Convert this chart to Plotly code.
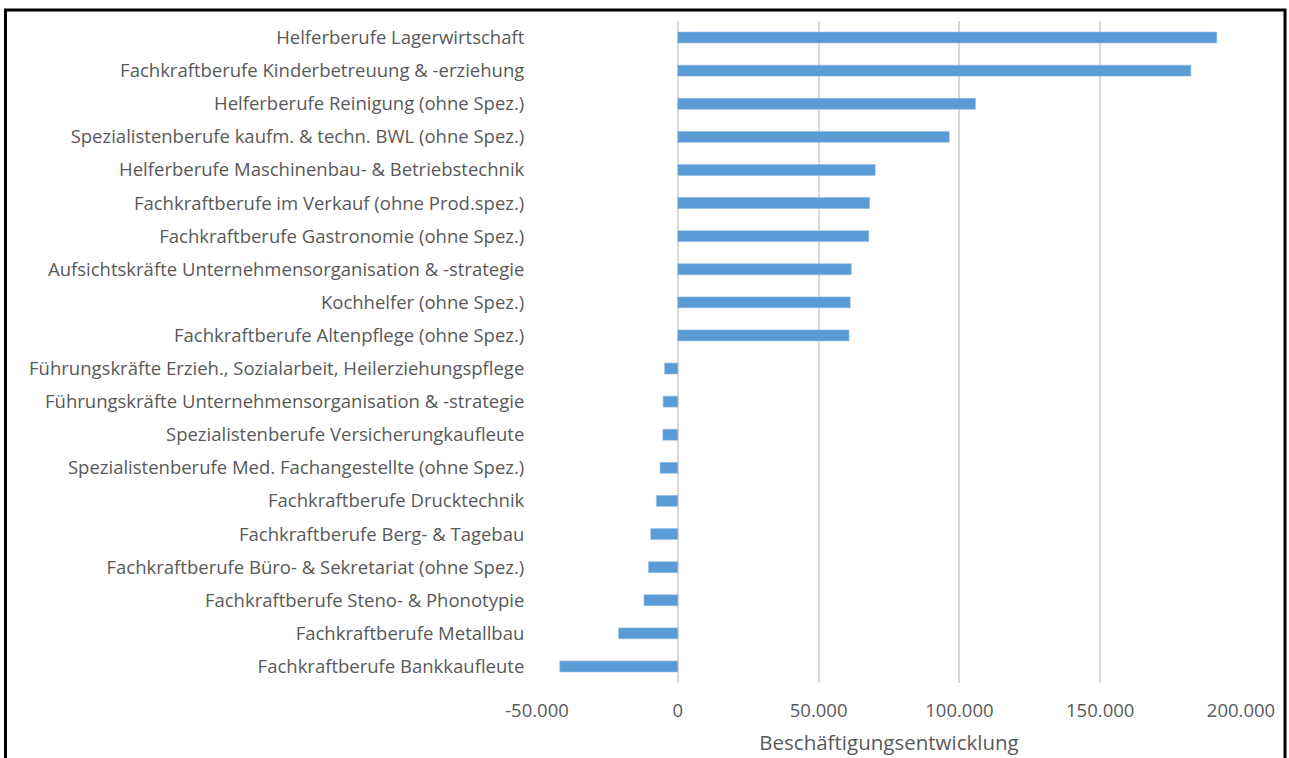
import plotly.graph_objects as go

categories = [
    "Helferberufe Lagerwirtschaft",
    "Fachkraftberufe Kinderbetreuung & -erziehung",
    "Helferberufe Reinigung (ohne Spez.)",
    "Spezialistenberufe kaufm. & techn. BWL (ohne Spez.)",
    "Helferberufe Maschinenbau- & Betriebstechnik",
    "Fachkraftberufe im Verkauf (ohne Prod.spez.)",
    "Fachkraftberufe Gastronomie (ohne Spez.)",
    "Aufsichtskräfte Unternehmensorganisation & -strategie",
    "Kochhelfer (ohne Spez.)",
    "Fachkraftberufe Altenpflege (ohne Spez.)",
    "Führungskräfte Erzieh., Sozialarbeit, Heilerziehungspflege",
    "Führungskräfte Unternehmensorganisation & -strategie",
    "Spezialistenberufe Versicherungkaufleute",
    "Spezialistenberufe Med. Fachangestellte (ohne Spez.)",
    "Fachkraftberufe Drucktechnik",
    "Fachkraftberufe Berg- & Tagebau",
    "Fachkraftberufe Büro- & Sekretariat (ohne Spez.)",
    "Fachkraftberufe Steno- & Phonotypie",
    "Fachkraftberufe Metallbau",
    "Fachkraftberufe Bankkaufleute",
]
values = [
    191400, 182200, 105700, 96400, 70100, 68100, 67800, 61600, 61200, 60800,
    -4700, -5200, -5300, -6300, -7600, -9600, -10400, -12000, -21000, -41900,
]
tick_vals = [-50000, 0, 50000, 100000, 150000, 200000]
tick_labels = ["-50.000", "0", "50.000", "100.000", "150.000", "200.000"]
x_title = "Beschäftigungsentwicklung"

W, H = 1289, 758
L, R, T, B = 537, 48, 21, 75
pw = W - L - R
ph = H - T - B

def px_to_paper_x(px):
    return (px - L) / pw

def px_to_paper_y(py):
    return (H - B - py) / ph

fig = go.Figure()
fig.add_trace(go.Bar(
    y=categories,
    x=values,
    orientation="h",
    marker=dict(color="#5B9BD5", line=dict(color="#8dbbe3", width=0.6)),
    hoverinfo="x+y",
))

font_family = "Open Sans"
fig.update_layout(
    width=W, height=H,
    margin=dict(l=L, r=R, t=T, b=B, pad=0, autoexpand=False),
    paper_bgcolor="white",
    plot_bgcolor="white",
    showlegend=False,
    bargap=0.67,
    font=dict(family=font_family, size=18.5, color="#595959"),
    xaxis=dict(
        range=[-50000, 200000],
        tickvals=tick_vals,
        ticktext=tick_labels,
        showgrid=True,
        gridcolor="#d9d9d9",
        gridwidth=1.5,
        zeroline=True,
        zerolinecolor="#d9d9d9",
        zerolinewidth=1.5,
        showline=False,
        ticks="outside",
        ticklen=11,
        tickcolor="rgba(0,0,0,0)",
        tickfont=dict(size=18.5, color="#595959"),
        title=dict(text=x_title, font=dict(size=20.5, color="#595959"), standoff=14),
        automargin=False,
        fixedrange=True,
    ),
    yaxis=dict(
        categoryorder="array",
        categoryarray=categories,
        autorange="reversed",
        showgrid=False,
        zeroline=False,
        showline=False,
        ticks="outside",
        ticklen=8,
        tickcolor="rgba(0,0,0,0)",
        tickfont=dict(size=18.5, color="#595959"),
        automargin=False,
        fixedrange=True,
    ),
    shapes=[dict(
        type="rect", xref="paper", yref="paper",
        x0=px_to_paper_x(5.5), x1=px_to_paper_x(1285),
        y0=px_to_paper_y(790), y1=px_to_paper_y(10),
        line=dict(color="black", width=3),
        fillcolor="rgba(0,0,0,0)",
        layer="above",
    )],
)

fig.write_html(
    "out.html",
    config={"displayModeBar": False},
    post_script="document.body.style.margin='0';document.body.style.overflow='hidden';",
)
